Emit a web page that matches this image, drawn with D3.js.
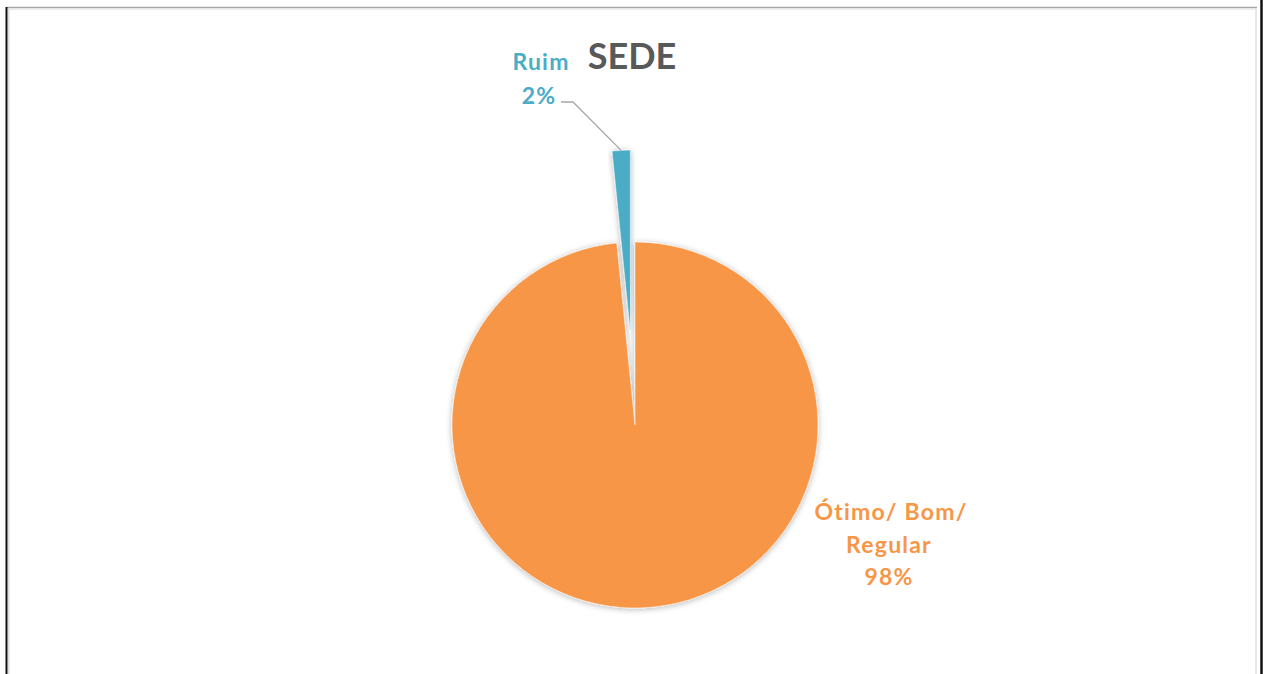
<!DOCTYPE html>
<html><head><meta charset="utf-8">
<script src="https://cdn.jsdelivr.net/npm/d3@7"></script>
<style>body{margin:0;background:#fff;} svg{display:block;font-family:Lato,"Open Sans",sans-serif;}</style>
</head><body>
<svg id="c" width="1263" height="674"></svg>
<script>
const categories = ["Ótimo/ Bom/ Regular", "Ruim"];
const values = [98.4, 1.6];
const pctLabels = ["98%", "2%"];
const colors = ["#F79646", "#4BACC6"];
const title = "SEDE";

const svg = d3.select("#c");
// frame
svg.append("line").attr("x1",7).attr("x2",1257).attr("y1",7.5).attr("y2",7.5).attr("stroke","#a6a6a6").attr("stroke-width",1.5);
svg.append("line").attr("x1",8).attr("x2",1256).attr("y1",9).attr("y2",9).attr("stroke","#e6e6e6").attr("stroke-width",1.5);
svg.append("line").attr("x1",6.5).attr("x2",6.5).attr("y1",7).attr("y2",674).attr("stroke","#111").attr("stroke-width",2);
svg.append("line").attr("x1",8.8).attr("x2",8.8).attr("y1",8).attr("y2",674).attr("stroke","#e0e0e0").attr("stroke-width",1.5);
svg.append("line").attr("x1",1256).attr("x2",1256).attr("y1",8).attr("y2",674).attr("stroke","#e0e0e0").attr("stroke-width",1.5);
svg.append("line").attr("x1",1261.5).attr("x2",1261.5).attr("y1",0).attr("y2",674).attr("stroke","#111").attr("stroke-width",2.5);

const defs = svg.append("defs");
const f = defs.append("filter").attr("id","sh").attr("x","-20%").attr("y","-20%").attr("width","140%").attr("height","140%");
f.append("feGaussianBlur").attr("in","SourceAlpha").attr("stdDeviation",3).attr("result","b");
f.append("feOffset").attr("in","b").attr("dx",0).attr("dy",1).attr("result","o");
f.append("feComponentTransfer").attr("in","o").attr("result","o2").append("feFuncA").attr("type","linear").attr("slope",0.3);
const m = f.append("feMerge"); m.append("feMergeNode").attr("in","o2"); m.append("feMergeNode").attr("in","SourceGraphic");

const cx = 635, cy = 425, R = 183;
const pie = d3.pie().sort(null).value(d=>d)(values);
const arc = d3.arc().innerRadius(0).outerRadius(R);
const explode = [0, 92];
const g = svg.append("g").attr("transform",`translate(${cx},${cy})`);
pie.forEach((p,i)=>{
  const mid = (p.startAngle+p.endAngle)/2;
  const dx = Math.sin(mid)*explode[i], dy = -Math.cos(mid)*explode[i];
  g.append("path").attr("d",arc(p)).attr("fill",colors[i])
   .attr("transform",`translate(${dx},${dy})`).attr("filter","url(#sh)")
   .attr("stroke","#fff").attr("stroke-width",0.5);
});

// title
svg.append("text").attr("x",632).attr("y",69).attr("text-anchor","middle")
  .attr("font-size",36).attr("font-weight","bold").attr("fill","#595959").text(title);

// Ruim label + leader
const rp = pie[1];
const rmid = (rp.startAngle+rp.endAngle)/2;
const ex = cx + Math.sin(rmid)*(R+explode[1]) , ey = cy - Math.cos(rmid)*(R+explode[1]);
svg.append("path").attr("d",`M561,102 L573,102 L${ex},${ey}`).attr("fill","none").attr("stroke","#a6a6a6").attr("stroke-width",1.3);
const rl = svg.append("text").attr("text-anchor","middle").attr("font-size",23).attr("letter-spacing",1.2).attr("font-weight","bold").attr("fill",colors[1]);
rl.append("tspan").attr("x",541).attr("y",70).text(categories[1]);
rl.append("tspan").attr("x",539).attr("y",104).text(pctLabels[1]);

// orange label
const ol = svg.append("text").attr("text-anchor","middle").attr("font-size",23).attr("letter-spacing",1.2).attr("font-weight","bold").attr("fill",colors[0]);
ol.append("tspan").attr("x",891).attr("y",520).text("Ótimo/ Bom/");
ol.append("tspan").attr("x",889).attr("y",553).text("Regular");
ol.append("tspan").attr("x",889).attr("y",585).text(pctLabels[0]);
</script>
</body></html>
